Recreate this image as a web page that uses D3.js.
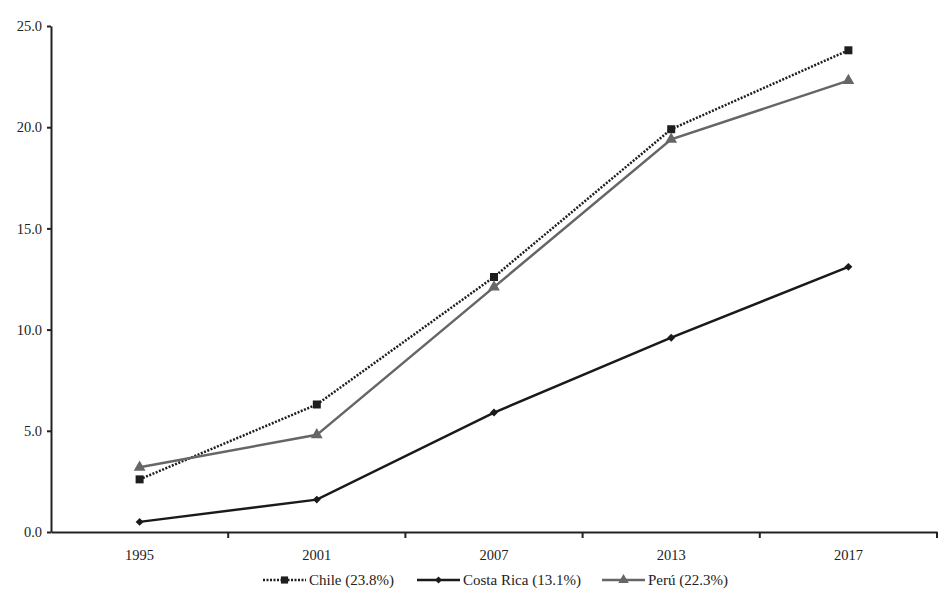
<!DOCTYPE html>
<html>
<head>
<meta charset="utf-8">
<script src="https://cdn.jsdelivr.net/npm/d3@7"></script>
<style>
  body { margin: 0; background: #fff; }
  svg text { font-family: "Liberation Serif", "DejaVu Serif", serif; fill: #222; }
</style>
</head>
<body>
<div id="chart"></div>
<script>
const years = ["1995", "2001", "2007", "2013", "2017"];
const chile = [2.6, 6.3, 12.6, 19.9, 23.8];
const costaRica = [0.5, 1.6, 5.9, 9.6, 13.1];
const peru = [3.2, 4.8, 12.1, 19.4, 22.3];
const yTicks = [0, 5, 10, 15, 20, 25];

const width = 947, height = 594;
const margin = {top: 26, right: 10, bottom: 62, left: 51};

const svg = d3.select("#chart").append("svg")
    .attr("width", width)
    .attr("height", height);

const x = d3.scaleBand()
    .domain(years)
    .range([margin.left, width - margin.right]);

const y = d3.scaleLinear()
    .domain([0, 25])
    .range([height - margin.bottom, margin.top]);

// axes
const yAxis = svg.append("g")
    .attr("transform", `translate(${margin.left},0)`)
    .call(d3.axisLeft(y).tickValues(yTicks).tickFormat(d3.format(".1f")).tickSize(4).tickSizeOuter(0));
yAxis.select(".domain").attr("stroke", "#222").attr("stroke-width", 2);
yAxis.selectAll(".tick line").attr("stroke", "#222").attr("stroke-width", 2);
yAxis.selectAll("text").attr("font-size", 14.5).attr("x", -9);

const xAxis = svg.append("g")
    .attr("transform", `translate(0,${height - margin.bottom})`)
    .call(d3.axisBottom(x).tickSize(0).tickSizeOuter(0));
xAxis.select(".domain").attr("stroke", "#222").attr("stroke-width", 2);
xAxis.selectAll("text").attr("font-size", 14.5).attr("dy", "1.7em");
// tick marks between categories
xAxis.selectAll("line.sep")
    .data(years)
    .join("line")
    .attr("class", "sep")
    .attr("x1", d => x(d) + x.bandwidth())
    .attr("x2", d => x(d) + x.bandwidth())
    .attr("y1", 0).attr("y2", 6)
    .attr("stroke", "#222").attr("stroke-width", 2);

const series = [
  {name: "Chile (23.8%)", values: chile, color: "#1e1e1e", width: 2.5, dash: "2,1.5", symbol: d3.symbolSquare, size: 64},
  {name: "Costa Rica (13.1%)", values: costaRica, color: "#1a1a1a", width: 2.5, dash: null, symbol: d3.symbolDiamond2, size: 40},
  {name: "Perú (22.3%)", values: peru, color: "#666666", width: 2.5, dash: null, symbol: d3.symbolTriangle, size: 60}
];

const line = d3.line()
    .x((d, i) => x(years[i]) + x.bandwidth() / 2)
    .y(d => y(d));

series.forEach(s => {
  svg.append("path")
      .datum(s.values)
      .attr("fill", "none")
      .attr("stroke", s.color)
      .attr("stroke-width", s.width)
      .attr("stroke-dasharray", s.dash)
      .attr("d", line);
  svg.selectAll(null)
      .data(s.values)
      .join("path")
      .attr("transform", (d, i) => `translate(${x(years[i]) + x.bandwidth() / 2},${y(d)})`)
      .attr("d", d3.symbol(s.symbol, s.size))
      .attr("fill", s.color);
});

// legend
const legendX = [263, 417, 602];
const legendY = 580;
series.forEach((s, i) => {
  const g = svg.append("g").attr("transform", `translate(${legendX[i]},${legendY})`);
  g.append("line")
      .attr("x1", 0).attr("x2", 43)
      .attr("stroke", s.color)
      .attr("stroke-width", s.width)
      .attr("stroke-dasharray", s.dash);
  g.append("path")
      .attr("transform", "translate(21.5,0)")
      .attr("d", d3.symbol(s.symbol, s.size * 0.8))
      .attr("fill", s.color);
  g.append("text")
      .attr("x", 46)
      .attr("dy", "0.35em")
      .attr("font-size", 15)
      .text(s.name);
});
</script>
</body>
</html>
